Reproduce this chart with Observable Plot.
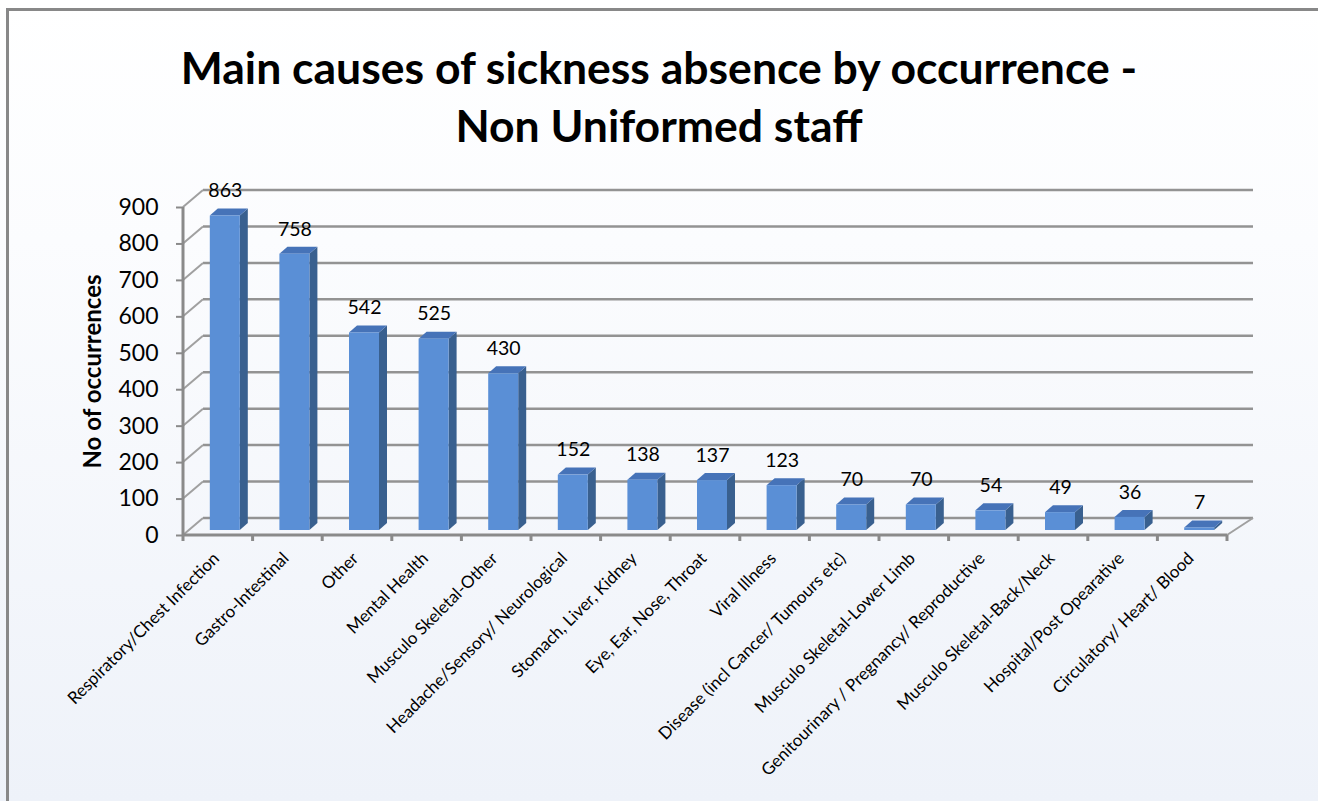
<!DOCTYPE html>
<html>
<head>
<meta charset="utf-8">
<script src="https://cdn.jsdelivr.net/npm/d3@7"></script>
<script src="https://cdn.jsdelivr.net/npm/@observablehq/plot@0.6"></script>
<style>
  html, body { margin: 0; padding: 0; overflow: hidden; }
  html { background: linear-gradient(#ffffff 0%, #fbfcfe 30%, #eef2f9 100%) no-repeat; min-height: 801px; }
  body { position: relative; height: 801px; font-family: Lato, "Open Sans", sans-serif; }
  #frame { position: absolute; left: 6px; top: 8px; right: -40px; bottom: -40px;
           border-top: 3px solid #888888; border-left: 3px solid #888888; border-right: none; border-bottom: none; }
  #title { position: absolute; left: 0; top: 0; width: 1318px; text-align: center;
           font-family: Lato, sans-serif; font-weight: 700; font-size: 44.5px; line-height: 58px;
           color: #000; padding-top: 38px; }
  #chart { position: absolute; left: 0; top: 165px; }
  #chart svg { overflow: visible; background: none; }
</style>
</head>
<body>
<div id="frame"></div>
<div id="title">Main causes of sickness absence by occurrence -<br>Non Uniformed staff</div>
<div id="chart"></div>
<script>
const categories = [
  "Respiratory/Chest Infection",
  "Gastro-Intestinal",
  "Other",
  "Mental Health",
  "Musculo Skeletal-Other",
  "Headache/Sensory/ Neurological",
  "Stomach, Liver, Kidney",
  "Eye, Ear, Nose, Throat",
  "Viral Illness",
  "Disease (incl Cancer/ Tumours etc)",
  "Musculo Skeletal-Lower Limb",
  "Genitourinary / Pregnancy/ Reproductive",
  "Musculo Skeletal-Back/Neck",
  "Hospital/Post Opearative",
  "Circulatory/ Heart/ Blood"
];
const occurrences = [863, 758, 542, 525, 430, 152, 138, 137, 123, 70, 70, 54, 49, 36, 7];
const yTicks = [0, 100, 200, 300, 400, 500, 600, 700, 800, 900];

const data = categories.map((c, i) => ({cause: c, n: occurrences[i]}));

const FRONT = "#5a8fd6", TOP = "#4673b8", SIDE = "#39608f", GRID = "#8a8a8a";
const BAR_DX = 7, BAR_DY = -5, HALF_W = 15, DEPTH_X = 8, DEPTH_Y = -7;

// 3D walls, floor and axis lines, drawn from the Plot scales
function walls(index, scales, values, dim) {
  const {x, y} = scales;
  const X0 = dim.marginLeft, X1 = dim.width - dim.marginRight;
  const dxL = 20, dxR = 26, DY = -17;
  const g = d3.create("svg:g").attr("fill", "none").attr("stroke", GRID).attr("stroke-width", 2);
  for (const t of yTicks) {
    const yy = y(t);
    g.append("line").attr("x1", X0 + dxL).attr("x2", X1 + dxR).attr("y1", yy + DY).attr("y2", yy + DY)
      .attr("stroke", "#939393").attr("stroke-width", 2.5);
    g.append("line").attr("x1", X0).attr("y1", yy).attr("x2", X0 + dxL).attr("y2", yy + DY).attr("stroke", "#a0a0a0");
  }
  const y0 = y(0);
  g.append("line").attr("x1", X1).attr("y1", y0).attr("x2", X1 + dxR).attr("y2", y0 + DY).attr("stroke", "#a0a0a0");
  g.append("line").attr("x1", X0).attr("x2", X1).attr("y1", y0).attr("y2", y0).attr("stroke-width", 3);
  g.append("line").attr("x1", X0).attr("x2", X0).attr("y1", y0).attr("y2", y(900)).attr("stroke-width", 3);
  const bw = x.bandwidth ? x.bandwidth() : (X1 - X0) / categories.length;
  categories.forEach((c, i) => {
    const xx = x(c);
    g.append("line").attr("x1", xx).attr("x2", xx).attr("y1", y0).attr("y2", y0 + 6).attr("stroke-width", 3);
    if (i === categories.length - 1) {
      g.append("line").attr("x1", xx + bw).attr("x2", xx + bw).attr("y1", y0).attr("y2", y0 + 6).attr("stroke-width", 3);
    }
  });
  return g.node();
}

// side and top faces of each bar
function barFaces(index, scales, values, dim) {
  const {x, y} = scales;
  const bw = x.bandwidth ? x.bandwidth() : (x(categories[1]) - x(categories[0]));
  const g = d3.create("svg:g");
  data.forEach(d => {
    const cx = x(d.cause) + bw / 2 + BAR_DX;
    const xl = cx - HALF_W, xr = cx + HALF_W;
    const yt = y(d.n) + BAR_DY, yb = y(0) + BAR_DY;
    g.append("polygon").attr("fill", SIDE)
      .attr("points", [[xr, yt], [xr + DEPTH_X, yt + DEPTH_Y], [xr + DEPTH_X, yb + DEPTH_Y], [xr, yb]].join(" "));
    g.append("polygon").attr("fill", TOP)
      .attr("points", [[xl, yt], [xr, yt], [xr + DEPTH_X, yt + DEPTH_Y], [xl + DEPTH_X, yt + DEPTH_Y]].join(" "));
  });
  return g.node();
}

const W = 1318, H = 636;
const bandW = (W - 183 - 91) / categories.length;
const chart = Plot.plot({
  width: W,
  height: H,
  marginLeft: 183,
  marginRight: 91,
  marginTop: 42,
  marginBottom: 266,
  style: {fontFamily: "Lato, sans-serif", background: "transparent", overflow: "visible"},
  x: {type: "band", domain: categories, padding: 0, round: false, axis: null},
  y: {domain: [0, 900], axis: null},
  marks: [
    walls,
    barFaces,
    Plot.barY(data, {x: "cause", y: "n", fill: FRONT, dx: BAR_DX, dy: BAR_DY,
      insetLeft: bandW / 2 - HALF_W, insetRight: bandW / 2 - HALF_W}),
    Plot.text(data, {x: "cause", y: "n", text: d => String(d.n), dx: BAR_DX, dy: -30,
      fontSize: 19.5, fill: "#000"}),
    Plot.axisY({ticks: yTicks, tickSize: 7, tickPadding: 18, stroke: GRID, strokeWidth: 2,
      fontSize: 23, fill: "#000", label: null, tickFormat: d => String(d)}),
    Plot.text(["No of occurrences"], {frameAnchor: "left", rotate: -90, textAnchor: "middle", dx: -90,
      fontSize: 24, fontWeight: "bold", fill: "#000"}),
    Plot.text(categories, {x: d => d, frameAnchor: "bottom", rotate: -45, textAnchor: "end",
      dx: 2, dy: 24, fontSize: 17, fill: "#000"})
  ]
});
document.getElementById("chart").appendChild(chart);
</script>
</body>
</html>
